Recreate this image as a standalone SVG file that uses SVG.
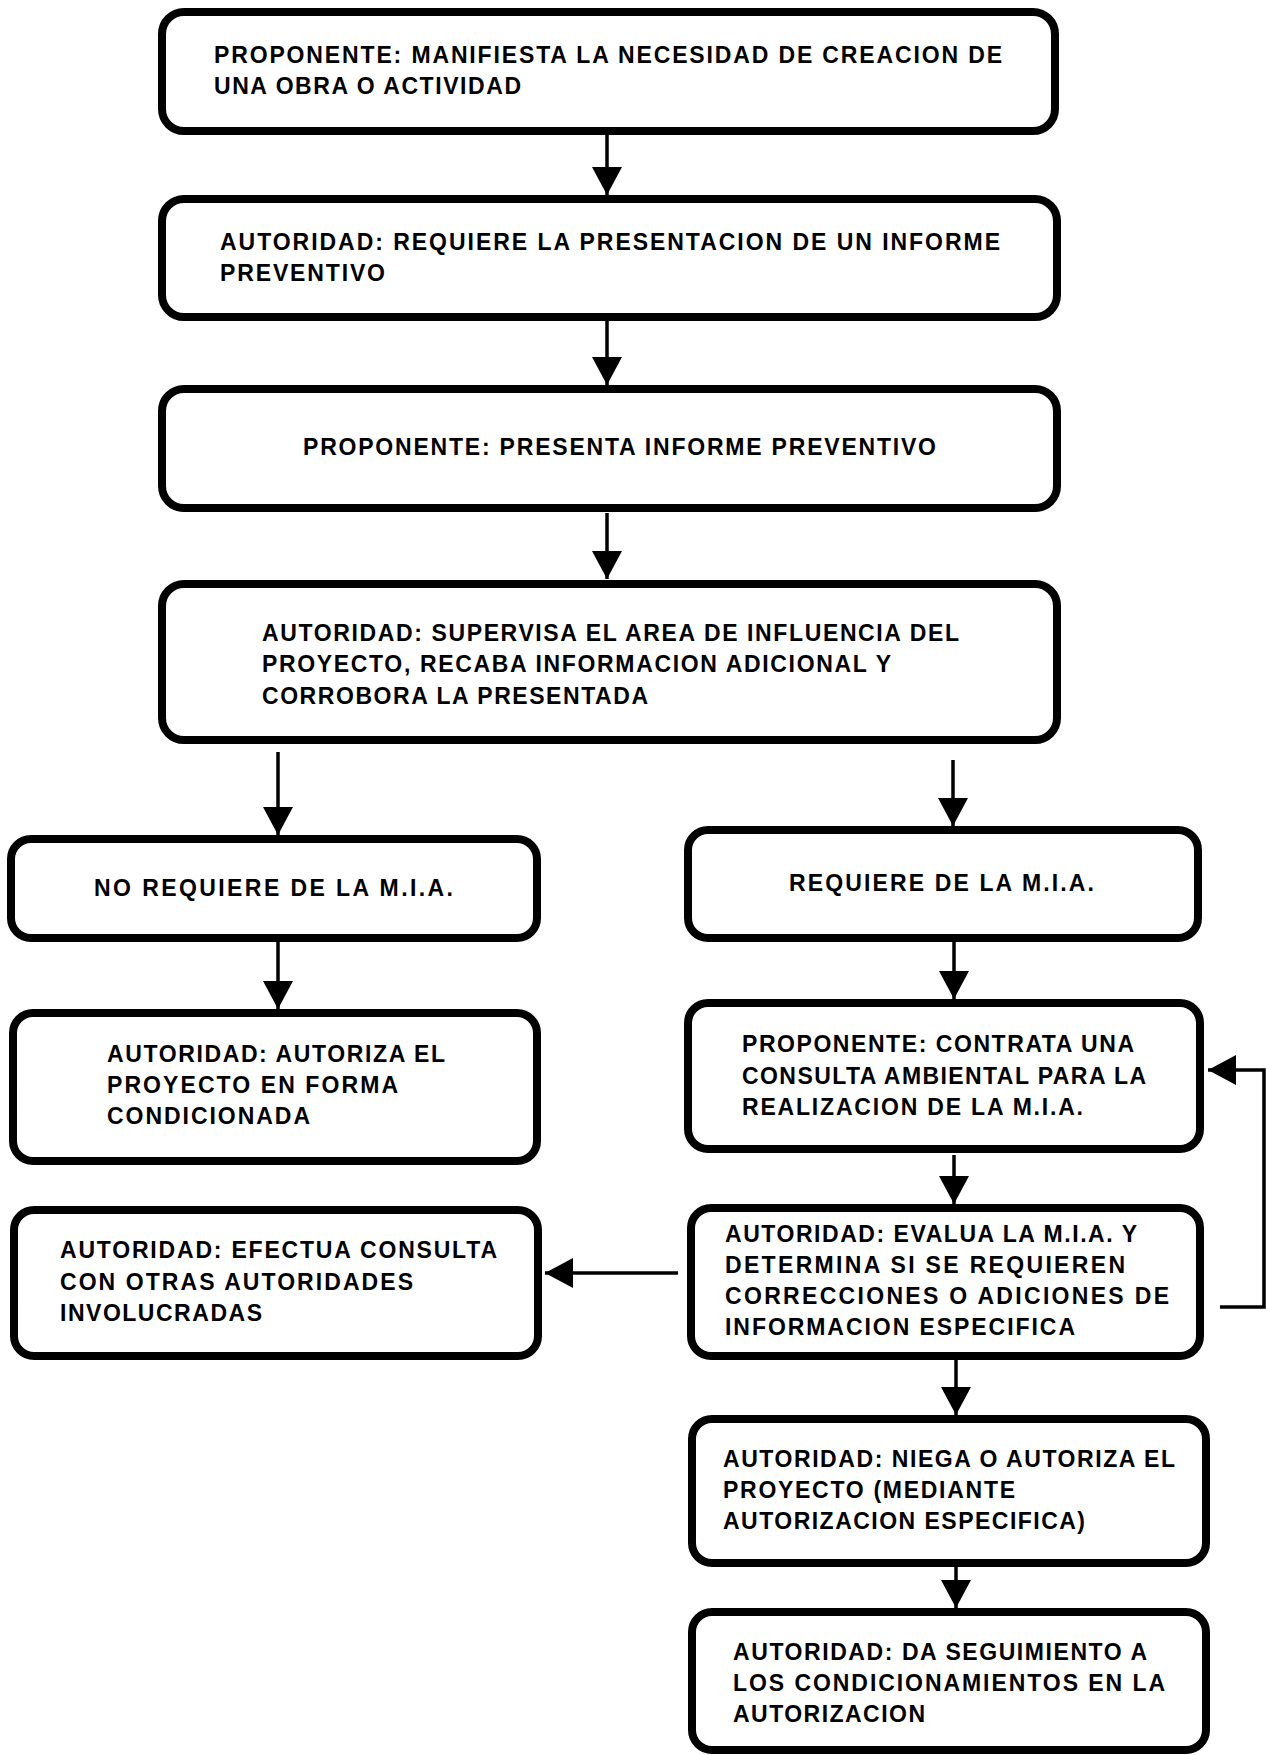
<svg xmlns="http://www.w3.org/2000/svg" width="1266" height="1755" viewBox="0 0 1266 1755">
<style>
.box{fill:#fff;stroke:#000;stroke-width:8}
.t{font-family:"Liberation Sans",Arial,Helvetica,sans-serif;font-weight:bold;font-size:23px;fill:#000}
.c{fill:none;stroke:#000;stroke-width:3.5}
</style>
<defs>
<marker id="ah" viewBox="0 0 28 30" markerUnits="userSpaceOnUse" markerWidth="28" markerHeight="30" refX="28" refY="15" orient="auto">
<path d="M0,0 L28,15 L0,30 Z" fill="#000"/>
</marker>
</defs>
<rect width="1266" height="1755" fill="#fff"/>
<g id="connectors">
<line class="c" x1="607" y1="131" x2="607" y2="195" marker-end="url(#ah)"/>
<line class="c" x1="607" y1="318" x2="607" y2="385" marker-end="url(#ah)"/>
<line class="c" x1="607" y1="513" x2="607" y2="579" marker-end="url(#ah)"/>
<line class="c" x1="278" y1="752" x2="278" y2="835" marker-end="url(#ah)"/>
<line class="c" x1="953" y1="760" x2="953" y2="826" marker-end="url(#ah)"/>
<line class="c" x1="278" y1="942" x2="278" y2="1009" marker-end="url(#ah)"/>
<line class="c" x1="954" y1="942" x2="954" y2="999" marker-end="url(#ah)"/>
<line class="c" x1="954" y1="1155" x2="954" y2="1204" marker-end="url(#ah)"/>
<line class="c" x1="956" y1="1360" x2="956" y2="1415" marker-end="url(#ah)"/>
<line class="c" x1="956" y1="1567" x2="956" y2="1608" marker-end="url(#ah)"/>
<line class="c" x1="678" y1="1273" x2="545" y2="1273" marker-end="url(#ah)"/>
<polyline class="c" points="1220,1307 1264,1307 1264,1070 1208,1070" marker-end="url(#ah)"/>
</g>
<g id="n1">
<rect class="box" x="162" y="12" width="893" height="119" rx="22"/>
<text class="t" x="214" y="63" textLength="788" lengthAdjust="spacing">PROPONENTE: MANIFIESTA LA NECESIDAD DE CREACION DE</text>
<text class="t" x="214" y="94" textLength="307" lengthAdjust="spacing">UNA OBRA O ACTIVIDAD</text>
</g>
<g id="n2">
<rect class="box" x="162" y="199" width="895" height="118" rx="22"/>
<text class="t" x="220" y="250" textLength="780" lengthAdjust="spacing">AUTORIDAD: REQUIERE LA PRESENTACION DE UN INFORME</text>
<text class="t" x="220" y="281" textLength="165" lengthAdjust="spacing">PREVENTIVO</text>
</g>
<g id="n3">
<rect class="box" x="162" y="389" width="895" height="119" rx="22"/>
<text class="t" x="303" y="455" textLength="633" lengthAdjust="spacing">PROPONENTE: PRESENTA INFORME PREVENTIVO</text>
</g>
<g id="n4">
<rect class="box" x="162" y="584" width="895" height="156" rx="22"/>
<text class="t" x="262" y="641" textLength="697" lengthAdjust="spacing">AUTORIDAD: SUPERVISA EL AREA DE INFLUENCIA DEL</text>
<text class="t" x="262" y="672" textLength="629" lengthAdjust="spacing">PROYECTO, RECABA INFORMACION ADICIONAL Y</text>
<text class="t" x="262" y="704" textLength="386" lengthAdjust="spacing">CORROBORA LA PRESENTADA</text>
</g>
<g id="n5">
<rect class="box" x="11" y="839" width="526" height="99" rx="20"/>
<text class="t" x="94" y="896" textLength="359" lengthAdjust="spacing">NO REQUIERE DE LA M.I.A.</text>
</g>
<g id="n6">
<rect class="box" x="13" y="1013" width="524" height="148" rx="20"/>
<text class="t" x="107" y="1062" textLength="338" lengthAdjust="spacing">AUTORIDAD: AUTORIZA EL</text>
<text class="t" x="107" y="1093" textLength="291" lengthAdjust="spacing">PROYECTO EN FORMA</text>
<text class="t" x="107" y="1124" textLength="203" lengthAdjust="spacing">CONDICIONADA</text>
</g>
<g id="n7">
<rect class="box" x="14" y="1210" width="524" height="146" rx="20"/>
<text class="t" x="60" y="1258" textLength="437" lengthAdjust="spacing">AUTORIDAD: EFECTUA CONSULTA</text>
<text class="t" x="60" y="1290" textLength="353" lengthAdjust="spacing">CON OTRAS AUTORIDADES</text>
<text class="t" x="60" y="1321" textLength="202" lengthAdjust="spacing">INVOLUCRADAS</text>
</g>
<g id="n8">
<rect class="box" x="688" y="830" width="510" height="108" rx="20"/>
<text class="t" x="789" y="891" textLength="305" lengthAdjust="spacing">REQUIERE DE LA M.I.A.</text>
</g>
<g id="n9">
<rect class="box" x="688" y="1003" width="512" height="146" rx="20"/>
<text class="t" x="742" y="1052" textLength="392" lengthAdjust="spacing">PROPONENTE: CONTRATA UNA</text>
<text class="t" x="742" y="1084" textLength="404" lengthAdjust="spacing">CONSULTA AMBIENTAL PARA LA</text>
<text class="t" x="742" y="1115" textLength="341" lengthAdjust="spacing">REALIZACION DE LA M.I.A.</text>
</g>
<g id="n10">
<rect class="box" x="691" y="1208" width="509" height="148" rx="20"/>
<text class="t" x="725" y="1242" textLength="412" lengthAdjust="spacing">AUTORIDAD: EVALUA LA M.I.A. Y</text>
<text class="t" x="725" y="1273" textLength="400" lengthAdjust="spacing">DETERMINA SI SE REQUIEREN</text>
<text class="t" x="725" y="1304" textLength="444" lengthAdjust="spacing">CORRECCIONES O ADICIONES DE</text>
<text class="t" x="725" y="1335" textLength="350" lengthAdjust="spacing">INFORMACION ESPECIFICA</text>
</g>
<g id="n11">
<rect class="box" x="692" y="1419" width="514" height="144" rx="20"/>
<text class="t" x="723" y="1467" textLength="452" lengthAdjust="spacing">AUTORIDAD: NIEGA O AUTORIZA EL</text>
<text class="t" x="723" y="1498" textLength="292" lengthAdjust="spacing">PROYECTO (MEDIANTE</text>
<text class="t" x="723" y="1529" textLength="362" lengthAdjust="spacing">AUTORIZACION ESPECIFICA)</text>
</g>
<g id="n12">
<rect class="box" x="692" y="1612" width="514" height="138" rx="20"/>
<text class="t" x="733" y="1660" textLength="414" lengthAdjust="spacing">AUTORIDAD: DA SEGUIMIENTO A</text>
<text class="t" x="733" y="1691" textLength="432" lengthAdjust="spacing">LOS CONDICIONAMIENTOS EN LA</text>
<text class="t" x="733" y="1722" textLength="192" lengthAdjust="spacing">AUTORIZACION</text>
</g>
</svg>
